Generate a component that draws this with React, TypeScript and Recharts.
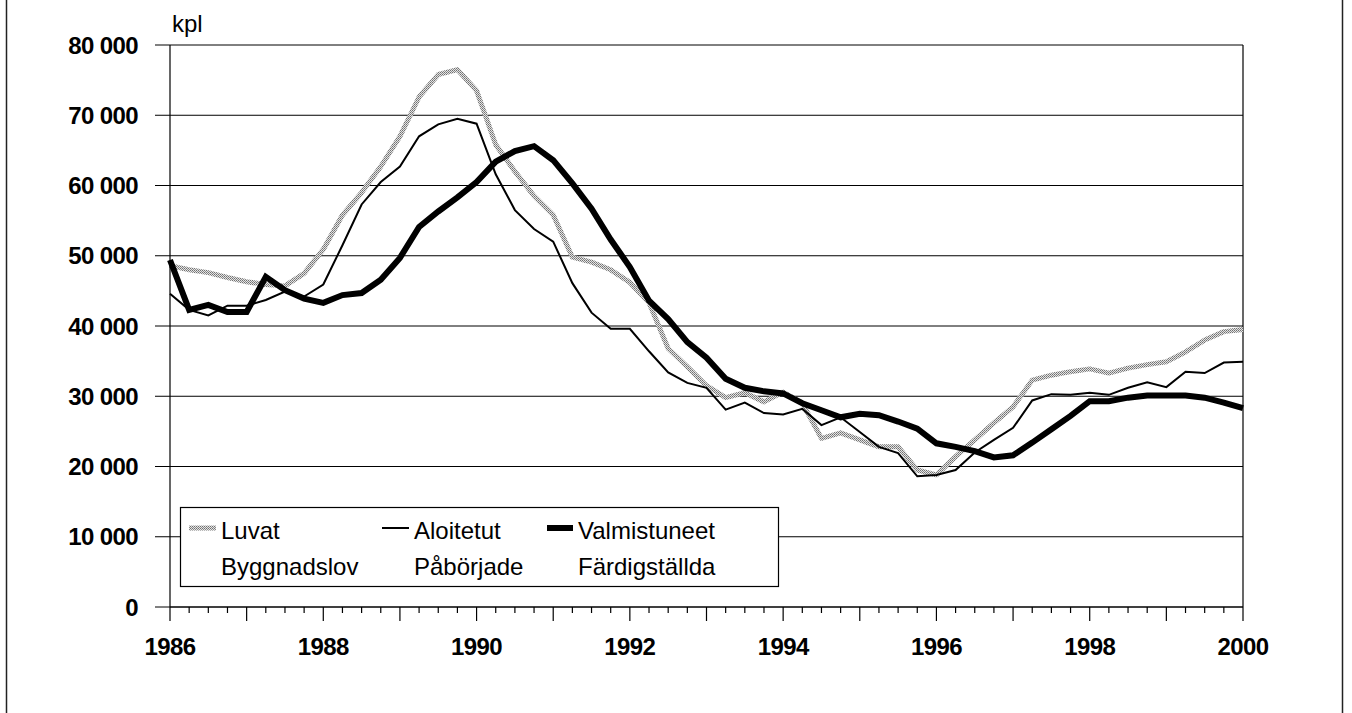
import { LineChart, Line, XAxis, YAxis, CartesianGrid, ReferenceLine } from 'recharts'

// quarterly figures 1986 Q1 .. 2000 Q1
const START_YEAR = 1986
const luvat = [
  48600, 48000, 47600, 46900, 46300, 45900, 45700, 47500, 50900, 55800, 59000, 62700,
  67000, 72600, 75800, 76500, 73500, 65800, 62000, 58500, 55800, 49800, 49100, 48000,
  46200, 43300, 36800, 34200, 31500, 29800, 30500, 29200, 30600, 29000, 24000, 24800,
  23800, 22800, 22800, 19500, 18800, 21400, 23800, 26200, 28500, 32300, 33000, 33500,
  33900, 33300, 34000, 34500, 34900, 36300, 38000, 39200, 39500
]
const aloitetut = [
  44600, 42300, 41500, 42900, 42900, 43700, 44900, 44200, 45900, 51500, 57300, 60500,
  62700, 67000, 68700, 69500, 68800, 61600, 56500, 53800, 52000, 46100, 41900, 39600,
  39600, 36400, 33400, 31900, 31200, 28100, 29100, 27600, 27400, 28200, 25900, 27000,
  24900, 22800, 21900, 18600, 18800, 19500, 22000, 23800, 25500, 29400, 30300, 30200,
  30500, 30200, 31200, 32000, 31300, 33500, 33300, 34800, 34900
]
const valmistuneet = [
  49400, 42300, 43000, 42000, 42000, 47000, 45100, 43900, 43300, 44400, 44700, 46600,
  49700, 54100, 56300, 58300, 60500, 63400, 64900, 65600, 63600, 60300, 56700, 52300,
  48400, 43600, 41000, 37700, 35500, 32500, 31200, 30700, 30400, 29000, 28000, 27000,
  27500, 27300, 26400, 25400, 23300, 22800, 22200, 21300, 21600, 23400, 25300, 27200,
  29300, 29300, 29800, 30100, 30100, 30100, 29800, 29100, 28300
]
const yTicks = [0, 10000, 20000, 30000, 40000, 50000, 60000, 70000, 80000]
const labelYears = [1986, 1988, 1990, 1992, 1994, 1996, 1998, 2000]

const data = luvat.map((v, i) => ({
  t: START_YEAR + i / 4,
  luvat: v,
  aloitetut: aloitetut[i],
  valmistuneet: valmistuneet[i]
}))
const xTicks = data.map(d => d.t)

const FONT = '"Liberation Sans", Arial, sans-serif'

const fmt = (v: number) => (v === 0 ? '0' : `${v / 1000} 000`)

function QuarterTick(props: any) {
  const { x, y, payload } = props
  const v = payload.value
  const year = Math.round(v)
  const isYear = Math.abs(v - year) < 1e-6
  return (
    <g>
      <line x1={x} x2={x} y1={y} y2={y + (isYear ? 14 : 6)} stroke="#000" strokeWidth={1.2} />
      {isYear && labelYears.includes(year) && (
        <text x={x} y={y + 48} textAnchor="middle" fill="#000"
          style={{ fontFamily: FONT, fontSize: 24, fontWeight: 700, letterSpacing: -0.6 }}>
          {year}
        </text>
      )}
    </g>
  )
}

export default function App() {
  return (
    <div style={{ position: 'absolute', left: 0, top: 0, width: 1352, height: 713, background: '#fff' }}>
      <LineChart width={1352} height={713} data={data}
        margin={{ top: 45, right: 109, bottom: 46, left: 70 }}>
        <defs>
          <pattern id="halftone" width="2" height="2" patternUnits="userSpaceOnUse">
            <rect width="2" height="2" fill="#e4e4e4" />
            <rect width="1" height="1" fill="#707070" />
            <rect x="1" y="1" width="1" height="1" fill="#8a8a8a" />
          </pattern>
        </defs>
        <CartesianGrid vertical={false} stroke="#000" strokeWidth={1} />
        <XAxis dataKey="t" type="number" domain={[1986, 2000]} ticks={xTicks} interval={0}
          height={60} tickSize={0} tickMargin={0} tickLine={false} tick={QuarterTick}
          axisLine={{ stroke: '#000', strokeWidth: 1.2 }} />
        <YAxis domain={[0, 80000]} ticks={yTicks} width={100} tickSize={15} tickMargin={17}
          tickFormatter={fmt} interval={0}
          tick={{ fill: '#000', fontSize: 24, fontWeight: 700, fontFamily: FONT, letterSpacing: -0.6 }}
          tickLine={{ stroke: '#000' }} axisLine={{ stroke: '#000', strokeWidth: 1.2 }} />
        <ReferenceLine x={2000} stroke="#000" strokeWidth={1.2} />
        <Line dataKey="luvat" stroke="url(#halftone)" strokeWidth={5} dot={false}
          isAnimationActive={false} strokeLinejoin="round" />
        <Line dataKey="aloitetut" stroke="#000" strokeWidth={2} dot={false}
          isAnimationActive={false} />
        <Line dataKey="valmistuneet" stroke="#000" strokeWidth={6} dot={false}
          isAnimationActive={false} />
      </LineChart>
      <svg width={1352} height={713} style={{ position: 'absolute', left: 0, top: 0, pointerEvents: 'none' }}>
        <defs>
          <pattern id="halftone2" width="2" height="2" patternUnits="userSpaceOnUse">
            <rect width="2" height="2" fill="#e4e4e4" />
            <rect width="1" height="1" fill="#707070" />
            <rect x="1" y="1" width="1" height="1" fill="#8a8a8a" />
          </pattern>
        </defs>
        <line x1={6.5} x2={6.5} y1={0} y2={713} stroke="#222" strokeWidth={1.5} />
        <line x1={1342.5} x2={1342.5} y1={0} y2={713} stroke="#222" strokeWidth={1.5} />
        <text x={172} y={32} fill="#000" style={{ fontFamily: FONT, fontSize: 24 }}>kpl</text>
        <g style={{ fontFamily: FONT, fontSize: 24 }}>
          <rect x={180.5} y={507.5} width={598} height={79} fill="#fff" stroke="#000" strokeWidth={1.2} />
          <line x1={189} x2={216} y1={528} y2={528} stroke="url(#halftone2)" strokeWidth={5} />
          <text x={221} y={539}>Luvat</text>
          <text x={221} y={575}>Byggnadslov</text>
          <line x1={382} x2={409} y1={528} y2={528} stroke="#000" strokeWidth={2} />
          <text x={414} y={539}>Aloitetut</text>
          <text x={414} y={575}>Påbörjade</text>
          <line x1={547} x2={573} y1={528} y2={528} stroke="#000" strokeWidth={6} />
          <text x={578} y={539}>Valmistuneet</text>
          <text x={578} y={575}>Färdigställda</text>
        </g>
      </svg>
    </div>
  )
}
